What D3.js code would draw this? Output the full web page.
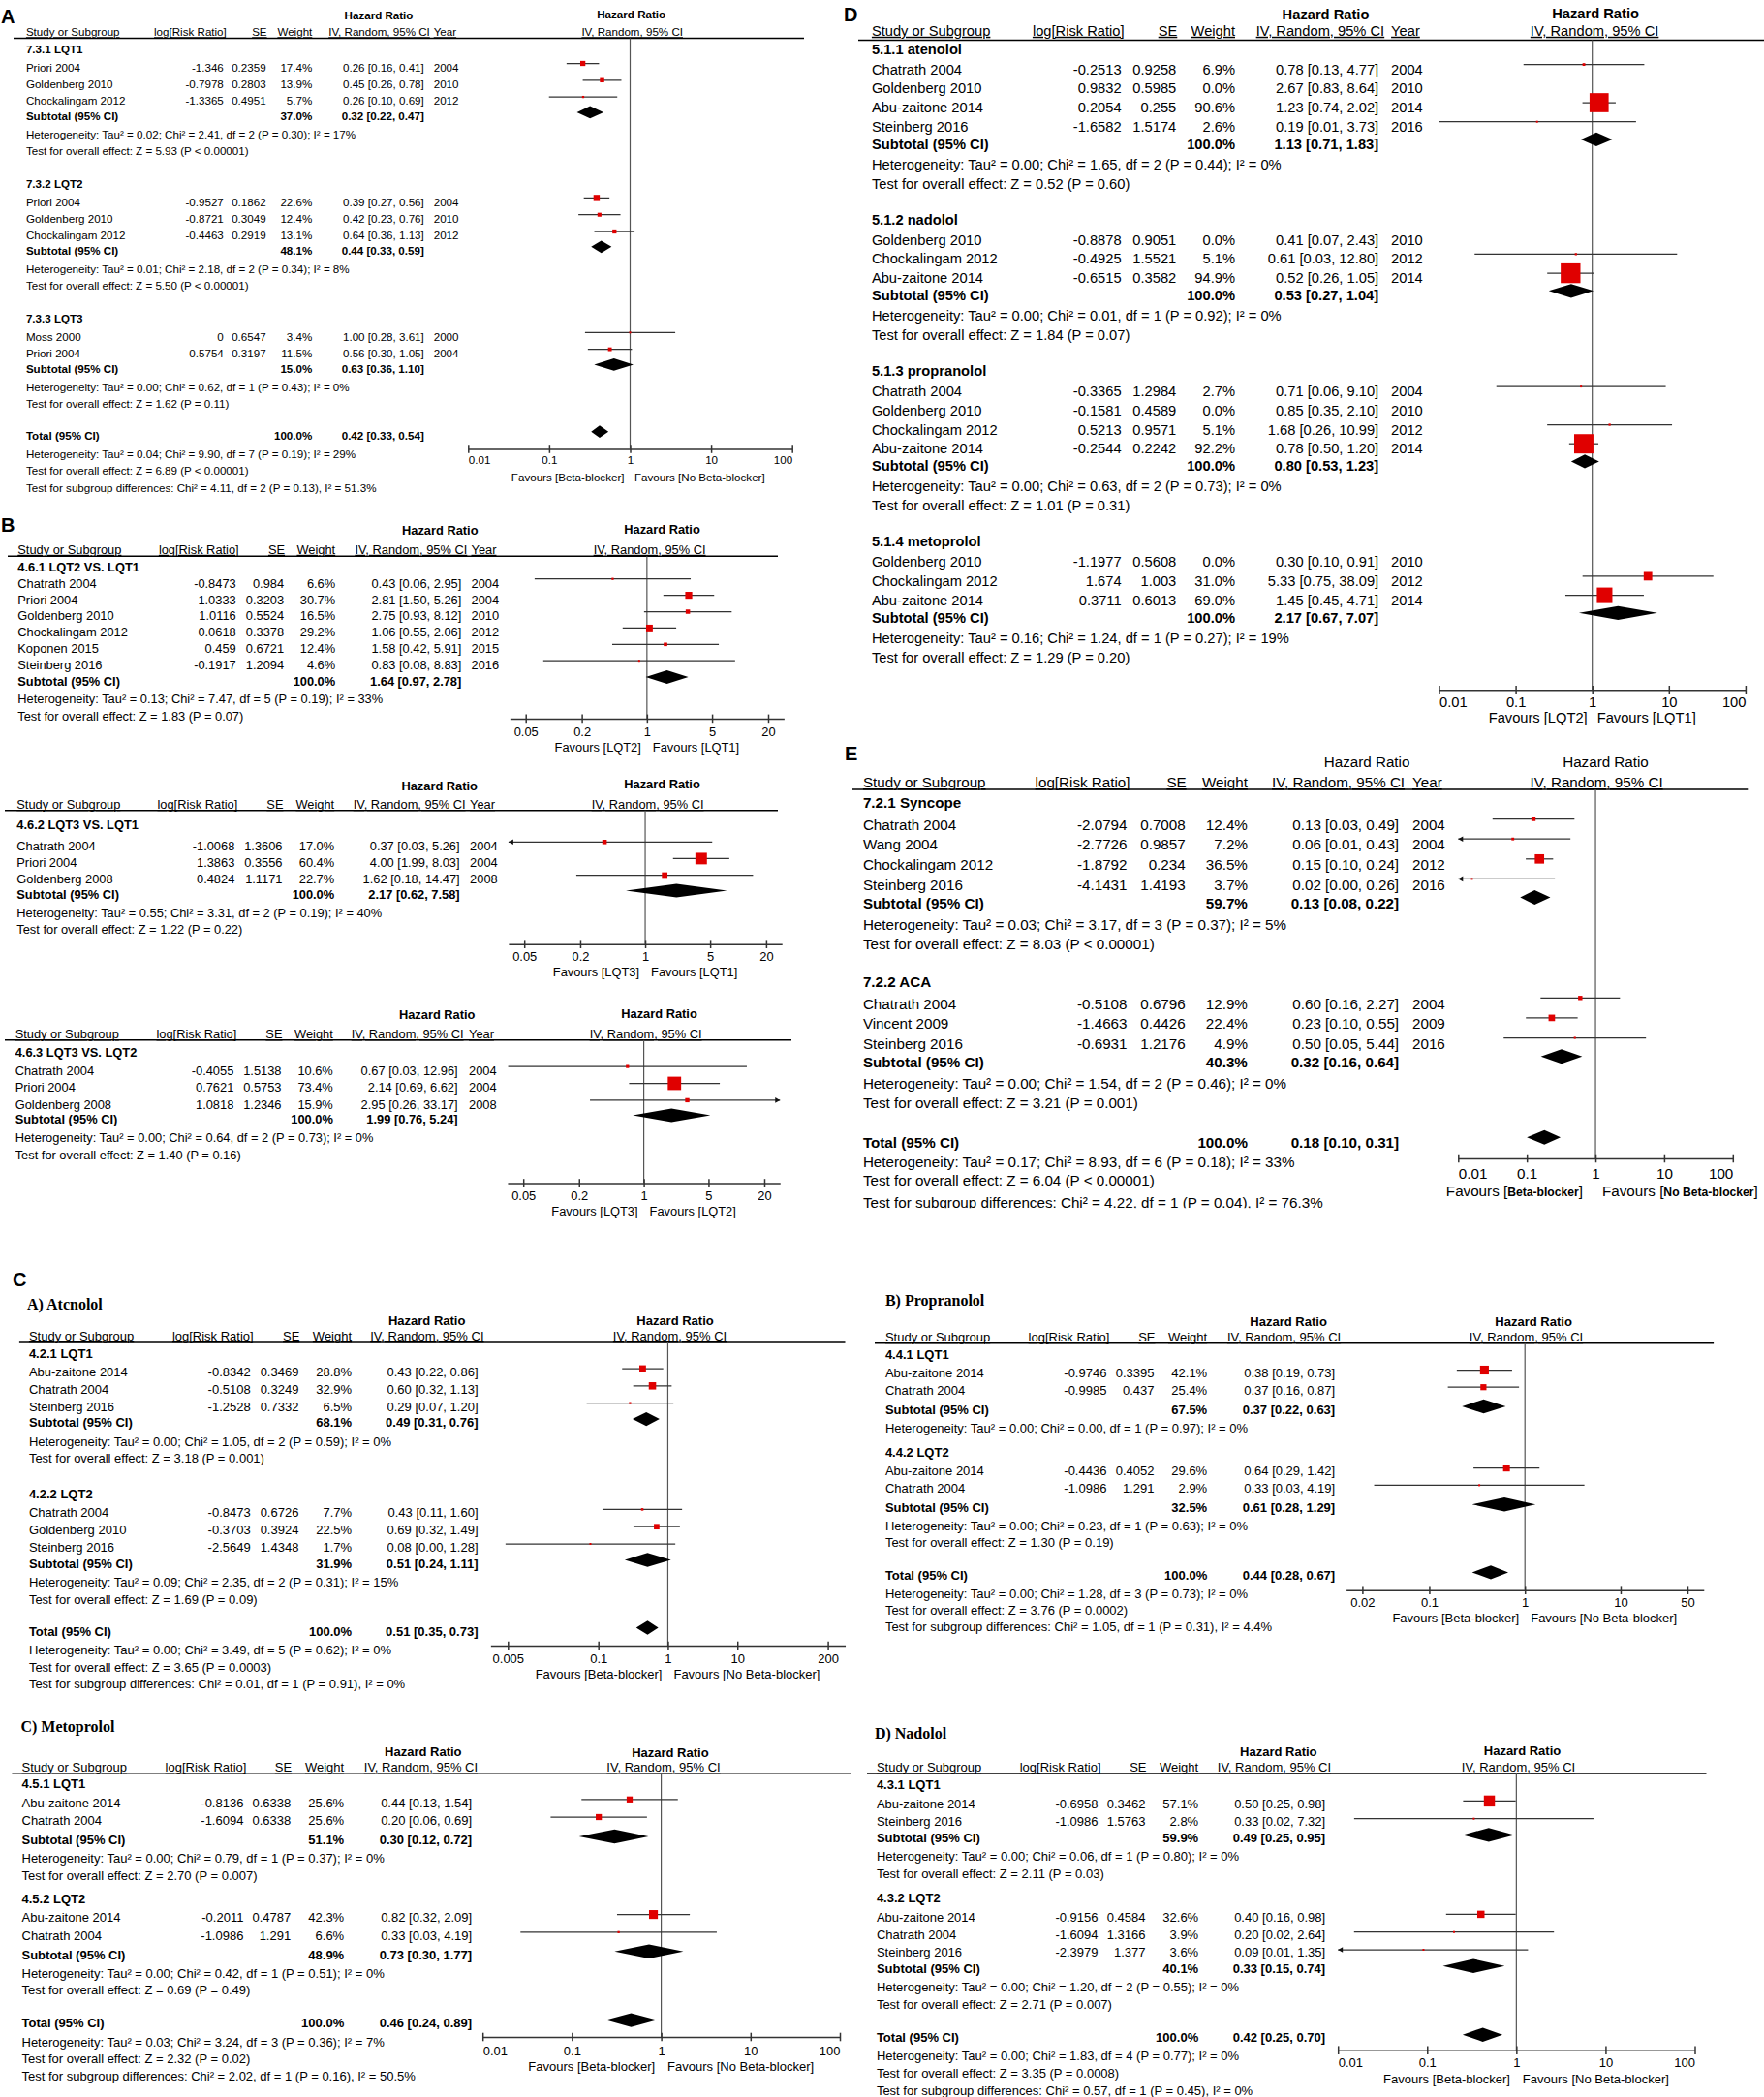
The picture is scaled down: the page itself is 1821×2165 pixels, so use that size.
<!DOCTYPE html>
<html>
<head>
<meta charset="utf-8">
<title>Forest plots - beta-blockers in LQTS</title>
<script src="https://cdn.jsdelivr.net/npm/d3@7"></script>
<style>
  body { margin: 0; background: #fff; }
  svg { display: block; }
</style>
</head>
<body>
<div id="figure"></div>
<script>
// ---------------- data ----------------
// study rows: [study, log[Risk Ratio], SE, weight %, HR, CI low, CI high, year]
// pooled rows: [weight %, HR, CI low, CI high]

// A
const aGroups = ["7.3.1 LQT1", "7.3.2 LQT2", "7.3.3 LQT3"];
const a1Rows = [
  ["Priori 2004", -1.346, 0.2359, 17.4, 0.26, 0.16, 0.41, 2004],
  ["Goldenberg 2010", -0.7978, 0.2803, 13.9, 0.45, 0.26, 0.78, 2010],
  ["Chockalingam 2012", -1.3365, 0.4951, 5.7, 0.26, 0.10, 0.69, 2012]
];
const a2Rows = [
  ["Priori 2004", -0.9527, 0.1862, 22.6, 0.39, 0.27, 0.56, 2004],
  ["Goldenberg 2010", -0.8721, 0.3049, 12.4, 0.42, 0.23, 0.76, 2010],
  ["Chockalingam 2012", -0.4463, 0.2919, 13.1, 0.64, 0.36, 1.13, 2012]
];
const a3Rows = [
  ["Moss 2000", 0, 0.6547, 3.4, 1.00, 0.28, 3.61, 2000],
  ["Priori 2004", -0.5754, 0.3197, 11.5, 0.56, 0.30, 1.05, 2004]
];
const aSubtotals = [[37.0, 0.32, 0.22, 0.47], [48.1, 0.44, 0.33, 0.59], [15.0, 0.63, 0.36, 1.10]];
const aHet = [
  "Heterogeneity: Tau² = 0.02; Chi² = 2.41, df = 2 (P = 0.30); I² = 17%",
  "Heterogeneity: Tau² = 0.01; Chi² = 2.18, df = 2 (P = 0.34); I² = 8%",
  "Heterogeneity: Tau² = 0.00; Chi² = 0.62, df = 1 (P = 0.43); I² = 0%"
];
const aTest = [
  "Test for overall effect: Z = 5.93 (P < 0.00001)",
  "Test for overall effect: Z = 5.50 (P < 0.00001)",
  "Test for overall effect: Z = 1.62 (P = 0.11)"
];
const aTotal = [100.0, 0.42, 0.33, 0.54];
const aTotalText = [
  "Heterogeneity: Tau² = 0.04; Chi² = 9.90, df = 7 (P = 0.19); I² = 29%",
  "Test for overall effect: Z = 6.89 (P < 0.00001)",
  "Test for subgroup differences: Chi² = 4.11, df = 2 (P = 0.13), I² = 51.3%"
];

// B
const b1Rows = [
  ["Chatrath 2004", -0.8473, 0.984, 6.6, 0.43, 0.06, 2.95, 2004],
  ["Priori 2004", 1.0333, 0.3203, 30.7, 2.81, 1.50, 5.26, 2004],
  ["Goldenberg 2010", 1.0116, 0.5524, 16.5, 2.75, 0.93, 8.12, 2010],
  ["Chockalingam 2012", 0.0618, 0.3378, 29.2, 1.06, 0.55, 2.06, 2012],
  ["Koponen 2015", 0.459, 0.6721, 12.4, 1.58, 0.42, 5.91, 2015],
  ["Steinberg 2016", -0.1917, 1.2094, 4.6, 0.83, 0.08, 8.83, 2016]
];
const b2Rows = [
  ["Chatrath 2004", -1.0068, 1.3606, 17.0, 0.37, 0.03, 5.26, 2004],
  ["Priori 2004", 1.3863, 0.3556, 60.4, 4.00, 1.99, 8.03, 2004],
  ["Goldenberg 2008", 0.4824, 1.1171, 22.7, 1.62, 0.18, 14.47, 2008]
];
const b3Rows = [
  ["Chatrath 2004", -0.4055, 1.5138, 10.6, 0.67, 0.03, 12.96, 2004],
  ["Priori 2004", 0.7621, 0.5753, 73.4, 2.14, 0.69, 6.62, 2004],
  ["Goldenberg 2008", 1.0818, 1.2346, 15.9, 2.95, 0.26, 33.17, 2008]
];
const bGroups = ["4.6.1 LQT2 VS. LQT1", "4.6.2 LQT3 VS. LQT1", "4.6.3 LQT3 VS. LQT2"];
const bSubtotals = [[100.0, 1.64, 0.97, 2.78], [100.0, 2.17, 0.62, 7.58], [100.0, 1.99, 0.76, 5.24]];
const bHet = [
  "Heterogeneity: Tau² = 0.13; Chi² = 7.47, df = 5 (P = 0.19); I² = 33%",
  "Heterogeneity: Tau² = 0.55; Chi² = 3.31, df = 2 (P = 0.19); I² = 40%",
  "Heterogeneity: Tau² = 0.00; Chi² = 0.64, df = 2 (P = 0.73); I² = 0%"
];
const bTest = [
  "Test for overall effect: Z = 1.83 (P = 0.07)",
  "Test for overall effect: Z = 1.22 (P = 0.22)",
  "Test for overall effect: Z = 1.40 (P = 0.16)"
];
const bFavours = [["LQT2", "LQT1"], ["LQT3", "LQT1"], ["LQT3", "LQT2"]];

// D
const dGroups = ["5.1.1 atenolol", "5.1.2 nadolol", "5.1.3 propranolol", "5.1.4 metoprolol"];
const d1Rows = [
  ["Chatrath 2004", -0.2513, 0.9258, 6.9, 0.78, 0.13, 4.77, 2004],
  ["Goldenberg 2010", 0.9832, 0.5985, 0.0, 2.67, 0.83, 8.64, 2010],
  ["Abu-zaitone 2014", 0.2054, 0.255, 90.6, 1.23, 0.74, 2.02, 2014],
  ["Steinberg 2016", -1.6582, 1.5174, 2.6, 0.19, 0.01, 3.73, 2016]
];
const d2Rows = [
  ["Goldenberg 2010", -0.8878, 0.9051, 0.0, 0.41, 0.07, 2.43, 2010],
  ["Chockalingam 2012", -0.4925, 1.5521, 5.1, 0.61, 0.03, 12.80, 2012],
  ["Abu-zaitone 2014", -0.6515, 0.3582, 94.9, 0.52, 0.26, 1.05, 2014]
];
const d3Rows = [
  ["Chatrath 2004", -0.3365, 1.2984, 2.7, 0.71, 0.06, 9.10, 2004],
  ["Goldenberg 2010", -0.1581, 0.4589, 0.0, 0.85, 0.35, 2.10, 2010],
  ["Chockalingam 2012", 0.5213, 0.9571, 5.1, 1.68, 0.26, 10.99, 2012],
  ["Abu-zaitone 2014", -0.2544, 0.2242, 92.2, 0.78, 0.50, 1.20, 2014]
];
const d4Rows = [
  ["Goldenberg 2010", -1.1977, 0.5608, 0.0, 0.30, 0.10, 0.91, 2010],
  ["Chockalingam 2012", 1.674, 1.003, 31.0, 5.33, 0.75, 38.09, 2012],
  ["Abu-zaitone 2014", 0.3711, 0.6013, 69.0, 1.45, 0.45, 4.71, 2014]
];
const dSubtotals = [[100.0, 1.13, 0.71, 1.83], [100.0, 0.53, 0.27, 1.04], [100.0, 0.80, 0.53, 1.23], [100.0, 2.17, 0.67, 7.07]];
const dHet = [
  "Heterogeneity: Tau² = 0.00; Chi² = 1.65, df = 2 (P = 0.44); I² = 0%",
  "Heterogeneity: Tau² = 0.00; Chi² = 0.01, df = 1 (P = 0.92); I² = 0%",
  "Heterogeneity: Tau² = 0.00; Chi² = 0.63, df = 2 (P = 0.73); I² = 0%",
  "Heterogeneity: Tau² = 0.16; Chi² = 1.24, df = 1 (P = 0.27); I² = 19%"
];
const dTest = [
  "Test for overall effect: Z = 0.52 (P = 0.60)",
  "Test for overall effect: Z = 1.84 (P = 0.07)",
  "Test for overall effect: Z = 1.01 (P = 0.31)",
  "Test for overall effect: Z = 1.29 (P = 0.20)"
];
const dFavours = ["LQT2", "LQT1"];

// E
const eGroups = ["7.2.1 Syncope", "7.2.2 ACA"];
const e1Rows = [
  ["Chatrath 2004", -2.0794, 0.7008, 12.4, 0.13, 0.03, 0.49, 2004],
  ["Wang 2004", -2.7726, 0.9857, 7.2, 0.06, 0.01, 0.43, 2004],
  ["Chockalingam 2012", -1.8792, 0.234, 36.5, 0.15, 0.10, 0.24, 2012],
  ["Steinberg 2016", -4.1431, 1.4193, 3.7, 0.02, 0.00, 0.26, 2016]
];
const e2Rows = [
  ["Chatrath 2004", -0.5108, 0.6796, 12.9, 0.60, 0.16, 2.27, 2004],
  ["Vincent 2009", -1.4663, 0.4426, 22.4, 0.23, 0.10, 0.55, 2009],
  ["Steinberg 2016", -0.6931, 1.2176, 4.9, 0.50, 0.05, 5.44, 2016]
];
const eSubtotals = [[59.7, 0.13, 0.08, 0.22], [40.3, 0.32, 0.16, 0.64]];
const eHet = [
  "Heterogeneity: Tau² = 0.03; Chi² = 3.17, df = 3 (P = 0.37); I² = 5%",
  "Heterogeneity: Tau² = 0.00; Chi² = 1.54, df = 2 (P = 0.46); I² = 0%"
];
const eTest = [
  "Test for overall effect: Z = 8.03 (P < 0.00001)",
  "Test for overall effect: Z = 3.21 (P = 0.001)"
];
const eTotal = [100.0, 0.18, 0.10, 0.31];
const eTotalText = [
  "Heterogeneity: Tau² = 0.17; Chi² = 8.93, df = 6 (P = 0.18); I² = 33%",
  "Test for overall effect: Z = 6.04 (P < 0.00001)",
  "Test for subgroup differences: Chi² = 4.22, df = 1 (P = 0.04), I² = 76.3%"
];

// C: per drug, no year column
const atenGroups = ["4.2.1 LQT1", "4.2.2 LQT2"];
const aten1Rows = [
  ["Abu-zaitone 2014", -0.8342, 0.3469, 28.8, 0.43, 0.22, 0.86],
  ["Chatrath 2004", -0.5108, 0.3249, 32.9, 0.60, 0.32, 1.13],
  ["Steinberg 2016", -1.2528, 0.7332, 6.5, 0.29, 0.07, 1.20]
];
const aten2Rows = [
  ["Chatrath 2004", -0.8473, 0.6726, 7.7, 0.43, 0.11, 1.60],
  ["Goldenberg 2010", -0.3703, 0.3924, 22.5, 0.69, 0.32, 1.49],
  ["Steinberg 2016", -2.5649, 1.4348, 1.7, 0.08, 0.00, 1.28]
];
const atenSubtotals = [[68.1, 0.49, 0.31, 0.76], [31.9, 0.51, 0.24, 1.11]];
const atenHet = [
  "Heterogeneity: Tau² = 0.00; Chi² = 1.05, df = 2 (P = 0.59); I² = 0%",
  "Heterogeneity: Tau² = 0.09; Chi² = 2.35, df = 2 (P = 0.31); I² = 15%"
];
const atenTest = [
  "Test for overall effect: Z = 3.18 (P = 0.001)",
  "Test for overall effect: Z = 1.69 (P = 0.09)"
];
const atenTotal = [100.0, 0.51, 0.35, 0.73];
const atenTotalText = [
  "Heterogeneity: Tau² = 0.00; Chi² = 3.49, df = 5 (P = 0.62); I² = 0%",
  "Test for overall effect: Z = 3.65 (P = 0.0003)",
  "Test for subgroup differences: Chi² = 0.01, df = 1 (P = 0.91), I² = 0%"
];

const propGroups = ["4.4.1 LQT1", "4.4.2 LQT2"];
const prop1Rows = [
  ["Abu-zaitone 2014", -0.9746, 0.3395, 42.1, 0.38, 0.19, 0.73],
  ["Chatrath 2004", -0.9985, 0.437, 25.4, 0.37, 0.16, 0.87]
];
const prop2Rows = [
  ["Abu-zaitone 2014", -0.4436, 0.4052, 29.6, 0.64, 0.29, 1.42],
  ["Chatrath 2004", -1.0986, 1.291, 2.9, 0.33, 0.03, 4.19]
];
const propSubtotals = [[67.5, 0.37, 0.22, 0.63], [32.5, 0.61, 0.28, 1.29]];
const propHet = [
  "Heterogeneity: Tau² = 0.00; Chi² = 0.00, df = 1 (P = 0.97); I² = 0%",
  "Heterogeneity: Tau² = 0.00; Chi² = 0.23, df = 1 (P = 0.63); I² = 0%"
];
const propTest = [null, "Test for overall effect: Z = 1.30 (P = 0.19)"];
const propTotal = [100.0, 0.44, 0.28, 0.67];
const propTotalText = [
  "Heterogeneity: Tau² = 0.00; Chi² = 1.28, df = 3 (P = 0.73); I² = 0%",
  "Test for overall effect: Z = 3.76 (P = 0.0002)",
  "Test for subgroup differences: Chi² = 1.05, df = 1 (P = 0.31), I² = 4.4%"
];

const metoGroups = ["4.5.1 LQT1", "4.5.2 LQT2"];
const meto1Rows = [
  ["Abu-zaitone 2014", -0.8136, 0.6338, 25.6, 0.44, 0.13, 1.54],
  ["Chatrath 2004", -1.6094, 0.6338, 25.6, 0.20, 0.06, 0.69]
];
const meto2Rows = [
  ["Abu-zaitone 2014", -0.2011, 0.4787, 42.3, 0.82, 0.32, 2.09],
  ["Chatrath 2004", -1.0986, 1.291, 6.6, 0.33, 0.03, 4.19]
];
const metoSubtotals = [[51.1, 0.30, 0.12, 0.72], [48.9, 0.73, 0.30, 1.77]];
const metoHet = [
  "Heterogeneity: Tau² = 0.00; Chi² = 0.79, df = 1 (P = 0.37); I² = 0%",
  "Heterogeneity: Tau² = 0.00; Chi² = 0.42, df = 1 (P = 0.51); I² = 0%"
];
const metoTest = [
  "Test for overall effect: Z = 2.70 (P = 0.007)",
  "Test for overall effect: Z = 0.69 (P = 0.49)"
];
const metoTotal = [100.0, 0.46, 0.24, 0.89];
const metoTotalText = [
  "Heterogeneity: Tau² = 0.03; Chi² = 3.24, df = 3 (P = 0.36); I² = 7%",
  "Test for overall effect: Z = 2.32 (P = 0.02)",
  "Test for subgroup differences: Chi² = 2.02, df = 1 (P = 0.16), I² = 50.5%"
];

const nadGroups = ["4.3.1 LQT1", "4.3.2 LQT2"];
const nad1Rows = [
  ["Abu-zaitone 2014", -0.6958, 0.3462, 57.1, 0.50, 0.25, 0.98],
  ["Steinberg 2016", -1.0986, 1.5763, 2.8, 0.33, 0.02, 7.32]
];
const nad2Rows = [
  ["Abu-zaitone 2014", -0.9156, 0.4584, 32.6, 0.40, 0.16, 0.98],
  ["Chatrath 2004", -1.6094, 1.3166, 3.9, 0.20, 0.02, 2.64],
  ["Steinberg 2016", -2.3979, 1.377, 3.6, 0.09, 0.01, 1.35]
];
const nadSubtotals = [[59.9, 0.49, 0.25, 0.95], [40.1, 0.33, 0.15, 0.74]];
const nadHet = [
  "Heterogeneity: Tau² = 0.00; Chi² = 0.06, df = 1 (P = 0.80); I² = 0%",
  "Heterogeneity: Tau² = 0.00; Chi² = 1.20, df = 2 (P = 0.55); I² = 0%"
];
const nadTest = [
  "Test for overall effect: Z = 2.11 (P = 0.03)",
  "Test for overall effect: Z = 2.71 (P = 0.007)"
];
const nadTotal = [100.0, 0.42, 0.25, 0.70];
const nadTotalText = [
  "Heterogeneity: Tau² = 0.00; Chi² = 1.83, df = 4 (P = 0.77); I² = 0%",
  "Test for overall effect: Z = 3.35 (P = 0.0008)",
  "Test for subgroup differences: Chi² = 0.57, df = 1 (P = 0.45), I² = 0%"
];

const bbFavours = ["Beta-blocker", "No Beta-blocker"];
const ticksWide = [0.01, 0.1, 1, 10, 100];
const ticksB = [0.05, 0.2, 1, 5, 20];
const ticksAten = [0.005, 0.1, 1, 10, 200];
const ticksProp = [0.02, 0.1, 1, 10, 50];
const panelLetters = ["A", "B", "C", "D", "E"];
const drugTitles = ["A) Atcnolol", "B) Propranolol", "C) Metoprolol", "D) Nadolol"];

// ---------------- drawing ----------------
const W = 1821, H = 2165;
const SANS = "'Liberation Sans', Arial, Helvetica, sans-serif";
const SERIF = "'Liberation Serif', 'Times New Roman', serif";
const f1 = d3.format(".1f"), f2 = d3.format(".2f");
const ciText = (hr, lo, hi) => `${f2(hr)} [${f2(lo)}, ${f2(hi)}]`;

const svg = d3.select("#figure").append("svg")
  .attr("width", W).attr("height", H)
  .attr("font-family", SANS);
svg.append("rect").attr("width", W).attr("height", H).attr("fill", "#fff");
const defs = svg.append("defs");

function addText(g, x, y, str, o) {
  const t = g.append("text")
    .attr("x", x).attr("y", y)
    .attr("font-size", o.fs)
    .attr("text-anchor", o.anchor || "start")
    .text(str);
  if (o.bold) t.attr("font-weight", "bold");
  if (o.ul) t.attr("text-decoration", "underline");
  return t;
}

function makeGroups(names, rowLists, subs, hets, tests) {
  return names.map((n, i) => ({ name: n, rows: rowLists[i], sub: subs[i], het: hets[i], test: tests[i] }));
}

function drawForest(c, groups, total, totalText, fav) {
  const g = svg.append("g");
  if (c.clipY) {
    const id = "clip" + Math.round(c.clipY);
    defs.append("clipPath").attr("id", id)
      .append("rect").attr("x", 0).attr("y", 0).attr("width", W).attr("height", c.clipY);
    g.attr("clip-path", `url(#${id})`);
  }
  const fs = c.fs;
  const t0 = c.ticks[0], t1 = c.ticks[c.ticks.length - 1];
  const ext = c.ext || 0;
  const dec = (c.px1 - c.px0) / Math.log10(t1 / t0);
  const x = d3.scaleLog()
    .domain([t0 / Math.pow(10, ext), t1 * Math.pow(10, ext)])
    .range([c.px0 - ext * dec, c.px1 + ext * dec]);
  const [dMin, dMax] = x.domain();

  // headers
  const hb = c.hrBold !== false;
  addText(g, c.hrX, c.hrY, "Hazard Ratio", { fs, bold: hb, anchor: "middle" });
  addText(g, c.plotHrX, c.plotHrY, "Hazard Ratio", { fs, bold: hb, anchor: "middle" });
  addText(g, c.study, c.hdrY, "Study or Subgroup", { fs, ul: true });
  addText(g, c.lr + 3, c.hdrY, "log[Risk Ratio]", { fs, ul: true, anchor: "end" });
  addText(g, c.se + 1, c.hdrY, "SE", { fs, ul: true, anchor: "end" });
  addText(g, c.w, c.hdrY, "Weight", { fs, ul: true, anchor: "end" });
  addText(g, c.ci + 6, c.hdrY, "IV, Random, 95% CI", { fs, ul: true, anchor: "end" });
  if (c.yr) addText(g, c.yr, c.hdrY, "Year", { fs, ul: true });
  addText(g, c.subHdrX, c.hdrY, "IV, Random, 95% CI", { fs, ul: true, anchor: "middle" });
  g.append("line")
    .attr("x1", c.lineX0).attr("x2", c.lineX1)
    .attr("y1", c.lineY).attr("y2", c.lineY)
    .attr("stroke", "#000").attr("stroke-width", 1.6);

  // vertical line of no effect
  g.append("line")
    .attr("x1", x(1)).attr("x2", x(1))
    .attr("y1", c.lineY).attr("y2", c.axisY)
    .attr("stroke", "#555").attr("stroke-width", 1.2);

  const marks = g.append("g");

  function studyRow(r, y) {
    const [name, lr, se, w, hr, lo, hi, yr] = r;
    addText(g, c.study, y, name, { fs });
    addText(g, c.lr, y, String(lr), { fs, anchor: "end" });
    addText(g, c.se, y, String(se), { fs, anchor: "end" });
    addText(g, c.w, y, f1(w) + "%", { fs, anchor: "end" });
    addText(g, c.ci, y, ciText(hr, lo, hi), { fs, anchor: "end" });
    if (c.yr && yr) addText(g, c.yr, y, String(yr), { fs });
    if (w <= 0) return;
    const ym = y - c.mdy;
    let l = Math.exp(lr - 1.96 * se), h = Math.exp(lr + 1.96 * se);
    const arrowL = l < dMin * 0.96, arrowR = h > dMax / 0.96;
    l = Math.max(l, dMin); h = Math.min(h, dMax);
    marks.append("line")
      .attr("x1", x(l)).attr("x2", x(h)).attr("y1", ym).attr("y2", ym)
      .attr("stroke", "#333").attr("stroke-width", 1.25);
    if (arrowL) {
      const ax = x(l);
      marks.append("path")
        .attr("d", `M${ax},${ym} L${ax + 5},${ym - 2.8} L${ax + 5},${ym + 2.8} Z`)
        .attr("fill", "#111");
    }
    if (arrowR) {
      const ax = x(h);
      marks.append("path")
        .attr("d", `M${ax},${ym} L${ax - 5},${ym - 2.8} L${ax - 5},${ym + 2.8} Z`)
        .attr("fill", "#111");
    }
    const s = Math.max(2, c.sq * Math.pow(w, 0.75));
    marks.append("rect")
      .attr("x", x(Math.exp(lr)) - s / 2).attr("y", ym - s / 2)
      .attr("width", s).attr("height", s)
      .attr("fill", "#e00000");
  }

  function pooledRow(label, p, y) {
    const [w, hr, lo, hi] = p;
    addText(g, c.study, y, label, { fs, bold: true });
    addText(g, c.w, y, f1(w) + "%", { fs, bold: true, anchor: "end" });
    addText(g, c.ci, y, ciText(hr, lo, hi), { fs, bold: true, anchor: "end" });
    const ym = y - c.mdy;
    marks.append("path")
      .attr("d", `M${x(lo)},${ym} L${x(hr)},${ym - c.dh} L${x(hi)},${ym} L${x(hr)},${ym + c.dh} Z`)
      .attr("fill", "#000");
  }

  let y = c.y0;
  groups.forEach((grp, gi) => {
    if (gi > 0) y += c.g5;
    addText(g, c.study, y, grp.name, { fs, bold: true });
    grp.rows.forEach((r, i) => {
      y += i === 0 ? c.g1 : c.rowH;
      studyRow(r, y);
    });
    y += c.g2;
    pooledRow("Subtotal (95% CI)", grp.sub, y);
    y += c.g3;
    addText(g, c.study, y, grp.het, { fs });
    if (grp.test) {
      y += c.g4;
      addText(g, c.study, y, grp.test, { fs });
    }
  });
  if (total) {
    y += c.gT;
    pooledRow("Total (95% CI)", total, y);
    y += c.tg3 || c.g3;
    addText(g, c.study, y, totalText[0], { fs });
    y += c.tg4 || c.g4;
    addText(g, c.study, y, totalText[1], { fs });
    y += c.tgS || c.g4;
    addText(g, c.study, y, totalText[2], { fs });
  }

  // axis
  const last = c.ticks.length - 1;
  const ag = g.append("g")
    .attr("transform", `translate(0,${c.axisY})`)
    .call(d3.axisBottom(x).tickValues(c.ticks).tickFormat(d => String(d)).tickSizeOuter(0).tickSizeInner(4));
  ag.attr("font-family", SANS).attr("font-size", fs);
  ag.select(".domain").attr("stroke", "#333").attr("stroke-width", 1.5);
  ag.selectAll(".tick line").attr("y1", -4.3).attr("y2", 4.3).attr("stroke", "#333").attr("stroke-width", 1.5);
  ag.selectAll(".tick text")
    .attr("y", c.tickDy).attr("dy", null).attr("fill", "#000")
    .attr("text-anchor", (d, i) => ext > 0 ? "middle" : i === 0 ? "start" : i === last ? "end" : "middle");

  // favours labels
  const fy = c.axisY + c.favDy;
  const gapL = c.favGapL || c.favGap, gapR = c.favGapR || c.favGap;
  [[fav[0], x(1) - gapL, "end"], [fav[1], x(1) + gapR, "start"]].forEach(([lab, fx, anchor]) => {
    const t = g.append("text").attr("x", fx).attr("y", fy)
      .attr("font-size", fs).attr("text-anchor", anchor);
    if (c.favBoldInner) {
      t.append("tspan").text("Favours [");
      t.append("tspan").attr("font-weight", "bold").attr("font-size", fs * 0.8).text(lab);
      t.append("tspan").text("]");
    } else {
      t.text(`Favours [${lab}]`);
    }
  });
}

// ---------------- layouts ----------------
const cfgA = {
  fs: 11.6, study: 26.9, lr: 230.8, se: 274.6, w: 322.3, ci: 437.8, yr: 447.7,
  hrX: 391, hrY: 20, plotHrX: 651.7, plotHrY: 19, subHdrX: 652.7, hdrY: 37.3, lineY: 39.5, lineX0: 14, lineX1: 830,
  ticks: ticksWide, px0: 483.3, px1: 817.7, ext: 0, axisY: 463.5, tickDy: 15.8, favDy: 33, favGapL: 6, favGapR: 4.5,
  y0: 55, rowH: 17.3, g1: 18.7, g2: 15.8, g3: 19, g4: 17.3, g5: 33.5, gT: 33, tgS: 17.8, mdy: 8.2, dh: 6.4, sq: 0.62
};
const cfgB1 = {
  fs: 12.85, study: 18.3, lr: 243.7, se: 293.1, w: 346.2, ci: 476.3, yr: 486.5,
  hrX: 454.3, hrY: 552.4, plotHrX: 683.5, plotHrY: 550.9, subHdrX: 670.6, hdrY: 571.8, lineY: 574.3, lineX0: 8, lineX1: 803,
  ticks: ticksB, px0: 542.7, px1: 793, ext: 0.17, axisY: 741.9, tickDy: 17.7, favDy: 33.6, favGap: 6,
  y0: 589.7, rowH: 16.9, g1: 16.9, g2: 16.9, g3: 18.4, g4: 17.4, mdy: 8.9, dh: 7, sq: 0.55
};
const cfgB2 = Object.assign({}, cfgB1, {
  study: 17.3, lr: 242.3, se: 291.5, w: 345.2, ci: 474.6, yr: 485.1,
  hrX: 453.7, hrY: 815.5, plotHrX: 683.5, plotHrY: 813.5, subHdrX: 668.6, hdrY: 835, lineY: 836.8, lineX0: 5, lineX1: 803,
  px0: 541.2, px1: 790.9, axisY: 974.7, y0: 856.2, rowH: 17.1, g1: 22, g2: 15.9, g3: 18.9, g4: 16.9
});
const cfgB3 = Object.assign({}, cfgB1, {
  study: 15.7, lr: 241.3, se: 290.5, w: 343.8, ci: 472.6, yr: 484,
  hrX: 451.2, hrY: 1052.3, plotHrX: 680.5, plotHrY: 1051, subHdrX: 666.6, hdrY: 1072.2, lineY: 1073.7, lineX0: 5, lineX1: 817,
  px0: 540.2, px1: 789, axisY: 1221.5, y0: 1091.1, rowH: 17.4, g1: 18.9, g2: 15.6, g3: 18.2, g4: 17.9
});
const cfgD = {
  fs: 14.7, study: 899.9, lr: 1157.6, se: 1214.3, w: 1275, ci: 1423.2, yr: 1436.1,
  hrX: 1368.5, hrY: 19.9, plotHrX: 1647.1, plotHrY: 19, subHdrX: 1646.1, hdrY: 36.8, lineY: 41.5, lineX0: 886, lineX1: 1821,
  ticks: ticksWide, px0: 1485.5, px1: 1801.9, ext: 0, axisY: 712.3, tickDy: 18, favDy: 34, favGap: 5,
  y0: 55.7, rowH: 19.7, g1: 20.9, g2: 18.2, g3: 20.9, g4: 19.9, g5: 37.1, mdy: 10, dh: 7.1, sq: 0.67
};
const cfgE = {
  fs: 15.2, study: 890.9, lr: 1163.5, se: 1223.7, w: 1287.9, ci: 1444.1, yr: 1458,
  hrX: 1411.1, hrY: 792, plotHrX: 1657.5, plotHrY: 792, subHdrX: 1648.1, hdrY: 813, lineY: 815, lineX0: 880, lineX1: 1804.3,
  ticks: ticksWide, px0: 1505.3, px1: 1788.8, ext: 0, axisY: 1196, tickDy: 20.7, favDy: 39, favGapL: 13, favGapR: 7,
  favBoldInner: true, hrBold: false, clipY: 1247.3,
  y0: 834, rowH: 20.6, g1: 22.8, g2: 19.2, g3: 22, g4: 20.5, g5: 38.4, gT: 41, tg3: 19.5, tg4: 19.3, tgS: 23,
  mdy: 11.2, dh: 7.5, sq: 0.65
};
const cfgAten = {
  fs: 13, study: 29.9, lr: 258.7, se: 308.4, w: 363.1, ci: 493.5, yr: null,
  hrX: 440.7, hrY: 1368, plotHrX: 697, plotHrY: 1368, subHdrX: 691.5, hdrY: 1384, lineY: 1386, lineX0: 19.9, lineX1: 872.5,
  ticks: ticksAten, px0: 524.3, px1: 854.6, ext: 0.25, axisY: 1699, tickDy: 17.7, favDy: 33.7, favGap: 6,
  y0: 1401.7, rowH: 17.8, g1: 19.3, g2: 16.5, g3: 19.5, g4: 17.5, g5: 37, gT: 33, mdy: 8, dh: 7.2, sq: 0.55
};
const cfgProp = {
  fs: 13, study: 913.9, lr: 1142.4, se: 1191.5, w: 1246.2, ci: 1378.2, yr: null,
  hrX: 1330.1, hrY: 1369, plotHrX: 1583.1, plotHrY: 1369, subHdrX: 1575.5, hdrY: 1385, lineY: 1386.7, lineX0: 903, lineX1: 1769.1,
  ticks: ticksProp, px0: 1406.4, px1: 1742, ext: 0.17, axisY: 1641.7, tickDy: 17.3, favDy: 33.3, favGap: 6,
  y0: 1402.7, rowH: 17.7, g1: 19.5, g2: 19.8, g3: 19.2, g4: 17, g5: 25, gT: 34, mdy: 7.7, dh: 7.2, sq: 0.55
};
const cfgMeto = {
  fs: 13, study: 22.5, lr: 251.4, se: 300.2, w: 355.2, ci: 487.1, yr: null,
  hrX: 436.8, hrY: 1813, plotHrX: 691.9, plotHrY: 1814, subHdrX: 685, hdrY: 1829, lineY: 1830.7, lineX0: 12.4, lineX1: 878.2,
  ticks: ticksWide, px0: 498.2, px1: 867, ext: 0, axisY: 2103, tickDy: 18.7, favDy: 34.7, favGap: 6.5,
  y0: 1846, rowH: 18.2, g1: 19.5, g2: 20, g3: 19.3, g4: 17.5, g5: 24.3, gT: 34, mdy: 7.7, dh: 7.2, sq: 0.55
};
const cfgNad = {
  fs: 13, study: 904.9, lr: 1133.5, se: 1182.5, w: 1237.2, ci: 1368.1, yr: null,
  hrX: 1319.8, hrY: 1813, plotHrX: 1571.5, plotHrY: 1812, subHdrX: 1567.5, hdrY: 1829, lineY: 1831, lineX0: 895, lineX1: 1761.5,
  ticks: ticksWide, px0: 1381.2, px1: 1749.5, ext: 0, axisY: 2116.7, tickDy: 17.3, favDy: 34.3, favGap: 6.5,
  y0: 1846.7, rowH: 18.3, g1: 20, g2: 16.7, g3: 19.3, g4: 17.7, g5: 25, gT: 34, mdy: 7.3, dh: 7.2, sq: 0.55
};

// ---------------- render ----------------
drawForest(cfgA, makeGroups(aGroups, [a1Rows, a2Rows, a3Rows], aSubtotals, aHet, aTest), aTotal, aTotalText, bbFavours);

[[cfgB1, b1Rows], [cfgB2, b2Rows], [cfgB3, b3Rows]].forEach(([cfg, rows], i) => {
  drawForest(cfg, makeGroups([bGroups[i]], [rows], [bSubtotals[i]], [bHet[i]], [bTest[i]]), null, null, bFavours[i]);
});

drawForest(cfgD, makeGroups(dGroups, [d1Rows, d2Rows, d3Rows, d4Rows], dSubtotals, dHet, dTest), null, null, dFavours);
drawForest(cfgE, makeGroups(eGroups, [e1Rows, e2Rows], eSubtotals, eHet, eTest), eTotal, eTotalText, bbFavours);
drawForest(cfgAten, makeGroups(atenGroups, [aten1Rows, aten2Rows], atenSubtotals, atenHet, atenTest), atenTotal, atenTotalText, bbFavours);
drawForest(cfgProp, makeGroups(propGroups, [prop1Rows, prop2Rows], propSubtotals, propHet, propTest), propTotal, propTotalText, bbFavours);
drawForest(cfgMeto, makeGroups(metoGroups, [meto1Rows, meto2Rows], metoSubtotals, metoHet, metoTest), metoTotal, metoTotalText, bbFavours);
drawForest(cfgNad, makeGroups(nadGroups, [nad1Rows, nad2Rows], nadSubtotals, nadHet, nadTest), nadTotal, nadTotalText, bbFavours);

// panel letters and drug titles
const letterPos = [[1, 24], [1, 549], [13, 1328], [871, 22], [872, 785]];
panelLetters.forEach((l, i) => {
  svg.append("text").attr("x", letterPos[i][0]).attr("y", letterPos[i][1])
    .attr("font-size", 20).attr("font-weight", "bold").text(l);
});
const titlePos = [[28, 1351.7], [913.9, 1348], [21.4, 1788], [902.9, 1795]];
drugTitles.forEach((t, i) => {
  svg.append("text").attr("x", titlePos[i][0]).attr("y", titlePos[i][1])
    .attr("font-family", SERIF).attr("font-size", 16).attr("font-weight", "bold").text(t);
});
</script>
</body>
</html>
